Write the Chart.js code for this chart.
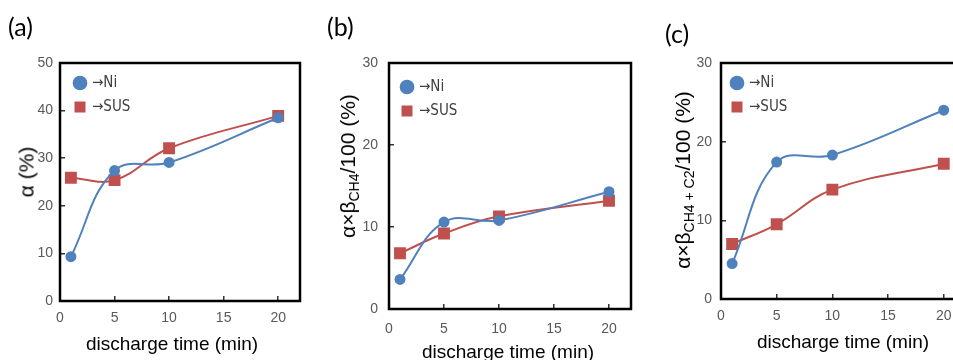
<!DOCTYPE html>
<html>
<head>
<meta charset="utf-8">
<script src="https://cdn.jsdelivr.net/npm/chart.js@4/dist/chart.umd.min.js"></script>
<style>
  html, body { margin:0; padding:0; background:#fff; }
  body { width:953px; height:360px; overflow:hidden; position:relative; }
  .panel { position:absolute; top:0; height:360px; }
  .tag { position:absolute; font-family:Lato, "Open Sans", sans-serif; font-size:25px; color:#000; line-height:1; }
  .xt, .yt { position:absolute; font-family:"Liberation Sans", Arial, sans-serif; color:#000; white-space:nowrap; line-height:1; }
  .xt { font-size:19px; transform:translate(-50%,-50%); }
  .yt { font-size:21px; transform:translate(-50%,-50%) rotate(-90deg); }
  .yt sub { font-size:14px; vertical-align:-4px; }
</style>
</head>
<body>

<div class="panel" style="left:0;width:320px"><canvas id="chartA"></canvas></div>
<div class="panel" style="left:320px;width:320px"><canvas id="chartB"></canvas></div>
<div class="panel" style="left:640px;width:340px"><canvas id="chartC"></canvas></div>

<div class="tag" style="left:8px;top:14px">(a)</div>
<div class="tag" style="left:327px;top:14px">(b)</div>
<div class="tag" style="left:665px;top:21px">(c)</div>

<div class="yt" style="left:26px;top:172px">α (%)</div>
<div class="yt" style="left:349px;top:166px">α×β<sub>CH4</sub>/100 (%)</div>
<div class="yt" style="left:684px;top:180px">α×β<sub>CH4 + C2</sub>/100 (%)</div>

<div class="xt" style="left:172px;top:343px">discharge time (min)</div>
<div class="xt" style="left:508px;top:351px">discharge time (min)</div>
<div class="xt" style="left:843px;top:341px">discharge time (min)</div>

<script>

/* =====================================================
   DATA
===================================================== */

const dischargeTime = [1, 5, 10, 20];

const xTicks = [0, 5, 10, 15, 20];

const seriesNames = ["→Ni", "→SUS"];

// (a) alpha (%)
const alphaNi  = [9.3, 27.4, 29.1, 38.5];
const alphaSUS = [25.9, 25.4, 32.1, 38.9];

// (b) alpha x beta CH4 / 100 (%)
const ch4Ni  = [3.6, 10.6, 10.8, 14.3];
const ch4SUS = [6.8, 9.2, 11.3, 13.2];

// (c) alpha x beta CH4+C2 / 100 (%)
const c2Ni  = [4.5, 17.4, 18.3, 24.0];
const c2SUS = [7.0, 9.5, 13.9, 17.2];


/* =========================
   STYLE
========================= */

const NI_COLOR  = "#4F81BD";
const SUS_COLOR = "#C0504D";

// tick numbers
const NARROW =
"'Liberation Sans Narrow', 'Arial Narrow', 'Liberation Sans', Arial, sans-serif";

// legend (needs a full size arrow glyph)
const LEGEND_FONT =
"'DejaVu Sans Condensed', 'DejaVu Sans', sans-serif";


/* =========================
   PLOT FRAME
========================= */

const framePlugin = {

    id:"frame",

    afterDraw(chart){

        const {ctx, chartArea:a} = chart;

        ctx.save();
        ctx.strokeStyle = "#000";
        ctx.lineWidth = 2.5;
        ctx.strokeRect(a.left, a.top, a.right - a.left, a.bottom - a.top);
        ctx.restore();

    }

};


/* =========================
   LEGEND INSIDE THE BOX
========================= */

const legendShift = {

    id:"legendShift",

    afterLayout(chart, args, opts){

        const legend = chart.legend;

        if(!legend) return;

        const a = chart.chartArea;

        legend.left   = a.left + (opts.x || 0);
        legend.top    = a.top  + (opts.y || 0);
        legend.right  = legend.left + legend.width;
        legend.bottom = legend.top + legend.height;

    }

};


/* =========================
   ONE PANEL
========================= */

function renderPanel(id, ni, sus, yMax, g){

    const canvas = document.getElementById(id);

    canvas.width  = g.w;
    canvas.height = 360;

    return new Chart(canvas,{

        type:"line",

        data:{

            datasets:[

                {
                    label:seriesNames[0],
                    data:dischargeTime.map((x, i) => ({x, y:ni[i]})),
                    borderColor:NI_COLOR,
                    backgroundColor:NI_COLOR,
                    borderWidth:2,
                    pointStyle:"circle",
                    pointRadius:4.5,
                    tension:0.4
                },

                {
                    label:seriesNames[1],
                    data:dischargeTime.map((x, i) => ({x, y:sus[i]})),
                    borderColor:SUS_COLOR,
                    backgroundColor:SUS_COLOR,
                    borderWidth:2,
                    pointStyle:"rect",
                    pointRadius:7,
                    tension:0.4
                }

            ]

        },

        options:{

            responsive:false,

            animation:false,

            layout:{
                padding:{ top:63, right:g.padRight, left:0, bottom:0 }
            },

            plugins:{

                legend:{

                    position:"chartArea",

                    align:"start",

                    labels:{
                        usePointStyle:true,
                        boxWidth:9,
                        boxHeight:9,
                        padding:9,
                        color:"#404040",
                        font:{ family:LEGEND_FONT, size:15 }
                    }

                },

                legendShift:{ x:g.legX, y:g.legY },

                tooltip:{ enabled:false }

            },

            scales:{

                x:{

                    type:"linear",

                    min:0,

                    max:22,

                    afterBuildTicks:axis => {
                        axis.ticks = xTicks.map(value => ({value}));
                    },

                    afterFit:axis => { axis.height = g.xH; },

                    border:{ display:false },

                    grid:{
                        drawOnChartArea:false,
                        color:"#333",
                        lineWidth:1.5,
                        tickLength:-5
                    },

                    ticks:{
                        padding:g.xPad,
                        color:"#595959",
                        font:{ family:NARROW, size:14 }
                    }

                },

                y:{

                    min:0,

                    max:yMax,

                    afterFit:axis => { axis.width = g.yW; },

                    border:{ display:false },

                    grid:{
                        drawOnChartArea:false,
                        color:"#333",
                        lineWidth:1.5,
                        tickLength:-5
                    },

                    ticks:{
                        stepSize:10,
                        padding:g.yPad,
                        color:"#595959",
                        font:{ family:NARROW, size:14 }
                    }

                }

            }

        },

        plugins:[framePlugin, legendShift]

    });

}


renderPanel("chartA", alphaNi, alphaSUS, 50,
    { w:320, padRight:20, yW:60, xH:59, xPad:14, yPad:12, legX:6.5, legY:3.5 });

renderPanel("chartB", ch4Ni, ch4SUS, 30,
    { w:320, padRight:6, yW:69, xH:51, xPad:17, yPad:16, legX:4.5, legY:7.5 });

renderPanel("chartC", c2Ni, c2SUS, 30,
    { w:340, padRight:14, yW:81, xH:61, xPad:14, yPad:14, legX:2.5, legY:3.5 });

</script>
</body>
</html>
